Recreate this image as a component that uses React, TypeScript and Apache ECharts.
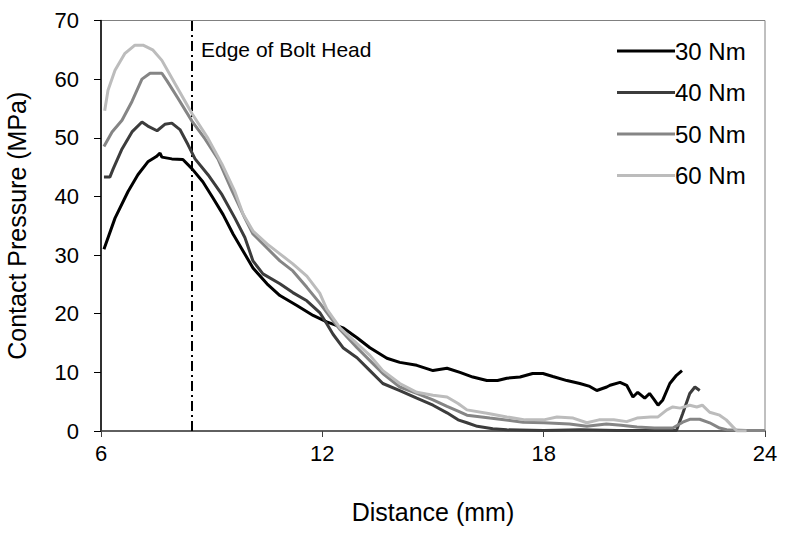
import React, { useEffect, useRef } from "react";
import * as echarts from "echarts";

const seriesNames = ["30 Nm", "40 Nm", "50 Nm", "60 Nm"];

const x30 = [6.08, 6.38, 6.73, 7.0, 7.27, 7.5, 7.6, 7.65, 7.92, 8.22, 8.47, 8.76, 9.04, 9.31, 9.58, 9.85, 10.12, 10.5, 10.85, 11.31, 11.75, 12.12, 12.56, 12.94, 13.29, 13.75, 14.1, 14.56, 15.0, 15.38, 15.73, 16.08, 16.46, 16.75, 17.0, 17.36, 17.7, 17.98, 18.25, 18.63, 18.98, 19.25, 19.44, 19.71, 19.8, 20.07, 20.25, 20.42, 20.55, 20.74, 20.87, 21.0, 21.1, 21.23, 21.42, 21.6, 21.75];
const y30 = [31.0, 36.3, 40.8, 43.7, 45.9, 46.8, 47.4, 46.7, 46.4, 46.3, 44.7, 42.5, 39.7, 36.9, 33.6, 30.7, 27.8, 25.1, 23.1, 21.4, 19.7, 18.6, 17.6, 15.9, 14.2, 12.4, 11.7, 11.2, 10.3, 10.7, 10.0, 9.2, 8.6, 8.6, 9.0, 9.2, 9.8, 9.8, 9.3, 8.6, 8.1, 7.6, 6.9, 7.5, 7.8, 8.3, 7.8, 5.8, 6.6, 5.6, 6.4, 5.3, 4.4, 5.3, 8.1, 9.5, 10.3];

const x40 = [6.08, 6.24, 6.33, 6.57, 6.84, 7.11, 7.27, 7.52, 7.73, 7.92, 8.14, 8.36, 8.55, 8.9, 9.28, 9.63, 9.9, 10.12, 10.39, 10.85, 11.2, 11.58, 11.93, 12.12, 12.29, 12.56, 12.94, 13.29, 13.64, 14.1, 14.56, 15.0, 15.38, 15.68, 15.92, 16.2, 16.62, 17.0, 18.0, 19.0, 20.0, 21.0, 21.6, 21.77, 21.96, 22.1, 22.23];
const y40 = [43.3, 43.3, 44.7, 48.1, 51.0, 52.7, 52.0, 51.2, 52.3, 52.5, 51.4, 48.8, 46.4, 43.7, 40.3, 36.3, 33.0, 29.0, 26.8, 25.1, 23.6, 22.2, 20.2, 18.3, 16.5, 14.2, 12.5, 10.3, 8.1, 6.9, 5.6, 4.4, 3.1, 1.9, 1.4, 0.8, 0.4, 0.2, 0.1, 0.2, 0.1, 0.1, 0.1, 3.0, 6.4, 7.5, 6.9];

const x50 = [6.08, 6.3, 6.57, 6.84, 7.11, 7.33, 7.65, 7.79, 8.09, 8.47, 8.82, 9.17, 9.55, 9.9, 10.12, 10.5, 10.85, 11.2, 11.58, 11.93, 12.29, 12.48, 12.94, 13.29, 13.64, 14.1, 14.56, 15.0, 15.38, 15.68, 15.92, 16.54, 17.44, 18.0, 18.7, 19.17, 19.7, 20.1, 20.53, 21.0, 21.5, 21.77, 21.96, 22.23, 22.5, 22.77, 22.96, 23.5, 24.0];
const y50 = [48.5, 51.0, 53.0, 56.2, 60.0, 61.0, 61.0, 59.7, 56.7, 52.8, 49.8, 46.4, 41.0, 36.3, 33.6, 31.2, 29.0, 27.3, 24.5, 21.8, 18.8, 17.3, 14.2, 12.0, 9.8, 7.5, 6.4, 5.3, 4.2, 3.4, 2.7, 2.2, 1.5, 1.4, 1.2, 0.8, 1.2, 1.0, 0.7, 0.5, 0.5, 1.5, 2.0, 2.0, 1.4, 0.5, 0.2, 0.1, 0.1];

const x60 = [6.1, 6.19, 6.38, 6.65, 6.92, 7.14, 7.4, 7.65, 8.0, 8.47, 8.9, 9.28, 9.63, 9.85, 10.12, 10.5, 10.85, 11.2, 11.58, 11.93, 12.12, 12.48, 12.94, 13.29, 13.64, 14.1, 14.56, 15.0, 15.38, 15.68, 15.92, 16.5, 17.0, 17.5, 18.0, 18.36, 18.8, 19.17, 19.5, 19.9, 20.25, 20.53, 20.9, 21.1, 21.34, 21.5, 21.7, 21.96, 22.15, 22.3, 22.5, 22.77, 22.95, 23.13, 23.24, 23.5];
const y60 = [54.6, 58.1, 61.5, 64.4, 65.8, 65.8, 65.0, 63.2, 59.3, 54.1, 49.9, 45.5, 40.8, 37.0, 34.1, 31.9, 30.2, 28.5, 26.4, 23.5, 20.8, 17.6, 14.9, 12.9, 10.3, 8.1, 6.6, 6.1, 5.8, 4.7, 3.6, 3.0, 2.4, 1.9, 1.9, 2.4, 2.2, 1.4, 1.9, 1.9, 1.6, 2.2, 2.4, 2.4, 3.6, 4.1, 3.9, 4.4, 4.1, 4.4, 3.2, 2.7, 1.9, 0.7, 0.0, 0.0];

const xTickMin = 6;
const xTickMax = 24;
const xTickStep = 6;
const yTickMin = 0;
const yTickMax = 70;
const yTickStep = 10;
const boltEdgeX = 8.46;
const boltEdgeLabel = "Edge of Bolt Head";

const colors = ["#000000", "#3c3c3c", "#858585", "#bcbcbc"];
const FONT = "'Liberation Sans', Arial, sans-serif";

function zip(xs: number[], ys: number[]) {
  return xs.map((x, i) => [x, ys[i]]);
}

export default function App() {
  const ref = useRef<HTMLDivElement>(null);
  useEffect(() => {
    if (!ref.current) return;
    const chart = echarts.init(ref.current, null, { renderer: "svg" });
    const sets = [zip(x30, y30), zip(x40, y40), zip(x50, y50), zip(x60, y60)];
    const series: any[] = sets.map((d, i) => ({
      name: seriesNames[i],
      type: "line",
      data: d,
      showSymbol: false,
      symbol: "none",
      lineStyle: { color: colors[i], width: 3 },
      itemStyle: { color: colors[i] },
      z: 3,
    }));
    series[0].markLine = {
      symbol: "none",
      silent: true,
      label: { show: false },
      lineStyle: { type: [10, 4, 2, 4], color: "#000", width: 2 },
      data: [{ xAxis: boltEdgeX }],
      z: 2,
    };
    chart.setOption({
      animation: false,
      backgroundColor: "#fff",
      grid: {
        left: 101,
        right: 21,
        top: 20.5,
        bottom: 102,
        show: true,
        borderColor: "#808080",
        borderWidth: 1,
        containLabel: false,
        outerBoundsMode: "none",
      },
      xAxis: {
        type: "value",
        min: xTickMin,
        max: xTickMax,
        interval: xTickStep,
        name: "Distance (mm)",
        nameLocation: "middle",
        nameGap: 68,
        nameTextStyle: { fontSize: 25, color: "#000", fontFamily: FONT },
        axisLine: { show: true, lineStyle: { color: "#404040", width: 1.5 } },
        axisTick: { show: true, length: 6, lineStyle: { color: "#404040" } },
        axisLabel: { fontSize: 22, color: "#000", fontFamily: FONT, margin: 11 },
        splitLine: { show: false },
      },
      yAxis: {
        type: "value",
        min: yTickMin,
        max: yTickMax,
        interval: yTickStep,
        name: "Contact Pressure (MPa)",
        nameLocation: "middle",
        nameGap: 72,
        nameRotate: 90,
        nameTextStyle: { fontSize: 25, color: "#000", fontFamily: FONT },
        axisLine: { show: true, lineStyle: { color: "#000", width: 1.5 } },
        axisTick: { show: true, length: 7, lineStyle: { color: "#000" } },
        axisLabel: { fontSize: 22, color: "#000", fontFamily: FONT, margin: 22 },
        splitLine: { show: false },
      },
      legend: {
        orient: "vertical",
        left: 612,
        top: 34,
        itemWidth: 58,
        itemHeight: 14,
        itemGap: 17.5,
        icon: "path://M0,6 L58,6 L58,9 L0,9 Z",
        textStyle: { fontSize: 24, color: "#000", fontFamily: FONT, lineHeight: 24, padding: [0, 0, 0, -5] },
        data: seriesNames,
      },
      graphic: [
        {
          type: "text",
          left: 201,
          top: 39,
          style: { text: boltEdgeLabel, fontSize: 21, fill: "#000", fontFamily: FONT },
        },
      ],
      series,
    });
    return () => chart.dispose();
  }, []);
  return <div ref={ref} style={{ position: "fixed", left: 0, top: 0, width: 786, height: 533 }} />;
}
